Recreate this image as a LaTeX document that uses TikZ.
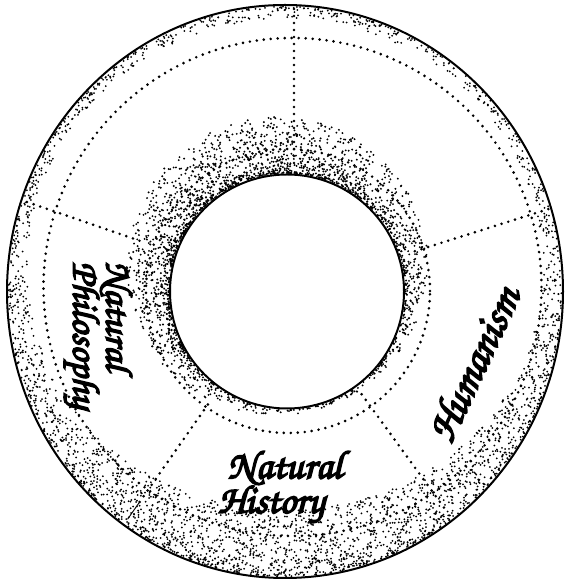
\documentclass[tikz,border=0pt]{standalone}
\usepackage{fontspec}
\newfontfamily\chorus{TeX Gyre Chorus}[FakeBold=4]
\begin{document}
\begin{tikzpicture}[x=1pt,y=1pt,
  dotline/.style={line width=2.9pt, line cap=round, dash pattern=on 0pt off 7pt},
  rimline/.style={line width=2pt},
  ticktrace/.style={line width=0.9pt},
  script/.style={font=\chorus\fontsize{40}{31}\selectfont, align=left, inner sep=0pt}]
\useasboundingbox (0,0) rectangle (567,584);
\pgfmathsetseed{4711}
\coordinate (c) at (287,292.5);
\coordinate (oc) at (285,292.5);
% stipple halo around the hole
\foreach \i in {1,...,4200}{
  \pgfmathsetmacro\th{360*rnd}
  \pgfmathsetmacro\w{max(4,30+26*sin(\th)-10*cos(\th))}
  \pgfmathtruncatemacro\keep{(rnd*56<\w)}
  \ifnum\keep=1
    \pgfmathsetmacro\t{rnd}
    \pgfmathsetmacro\r{118.5+\w*\t*\t}
    \fill ([shift={(\th:\r)}]c) circle[radius=1.05];
  \fi
}
% stipple band along the outer rim
\foreach \i in {1,...,6500}{
  \pgfmathsetmacro\th{360*rnd}
  \pgfmathsetmacro\s{sin(\th)}
  \pgfmathsetmacro\w{12-11*(1-\s)+19*(1-\s)*(1-\s)}
  \pgfmathtruncatemacro\keep{(rnd*66<\w)}
  \ifnum\keep=1
    \pgfmathsetmacro\t{rnd}
    \pgfmathsetmacro\k{1-(1.5+\w*\t*sqrt(\t))/282}
    \fill ({285+278*\k*cos(\th)},{292.5+286.5*\k*\s}) circle[radius=1.0];
  \fi
}
% dotted circles
\draw[dotline] (292.5,297) circle[radius=249];
\draw[dotline] (288,293) circle[radius=142];
% dotted radial dividers
\draw[dotline] (294,421) -- (294,578);
\draw[dotline] ([shift={(161:156)}]c) -- ([shift={(161:277)}]c);
\draw[dotline] ([shift={(17.5:134)}]c) -- ([shift={(17.5:276)}]c);
\draw[dotline] ([shift={(-125:138)}]c) -- ([shift={(-125:258)}]c);
\draw[ticktrace] ([shift={(-125:258)}]c) -- ([shift={(-125:278)}]c);
\draw[dotline] ([shift={(-54:127)}]c) -- ([shift={(-54:272)}]c);
% hole and outer rim
\draw[rimline] (c) circle[radius=117];
\draw[rimline] (oc) ellipse[x radius=278, y radius=286.5];
% labels
\node[script, font=\chorus\fontsize{38}{30}\selectfont, rotate=-90] (np) at (98,249) {Natural\\Philosophy};
\node[script] (nh) at (280,97) {\hspace*{10pt}Natural\\History};
\node[script, font=\chorus\fontsize{43}{30}\selectfont, rotate=65] (hu) at (473,220) {Humanism};
\end{tikzpicture}
\end{document}
